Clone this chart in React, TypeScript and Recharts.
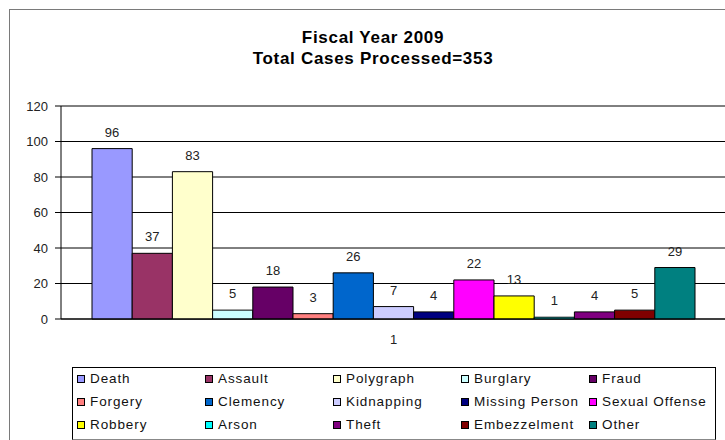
import React from 'react';
import { BarChart, Bar, XAxis, YAxis, CartesianGrid, LabelList } from 'recharts';

const crimeTypes = [
  'Death', 'Assault', 'Polygraph', 'Burglary', 'Fraud',
  'Forgery', 'Clemency', 'Kidnapping', 'Missing Person', 'Sexual Offense',
  'Robbery', 'Arson', 'Theft', 'Embezzelment', 'Other',
];
const caseCounts = [96, 37, 83, 5, 18, 3, 26, 7, 4, 22, 13, 1, 4, 5, 29];
const barColors = [
  '#9999FF', '#993366', '#FFFFCC', '#CCFFFF', '#660066',
  '#FF8080', '#0066CC', '#CCCCFF', '#000080', '#FF00FF',
  '#FFFF00', '#00FFFF', '#800080', '#800000', '#008080',
];
const yTicks = [0, 20, 40, 60, 80, 100, 120];
const categoryLabel = '1';
const titleLines = ['Fiscal Year 2009', 'Total Cases Processed=353'];

// one category row, one key per crime type
const chartData = [
  crimeTypes.reduce<Record<string, string | number>>(
    (row, t, i) => {
      row[t] = caseCounts[i];
      return row;
    },
    { name: categoryLabel }
  ),
];

const FONT = '"Liberation Sans", Arial, sans-serif';

const App: React.FC = () => {
  return (
    <div
      style={{
        position: 'absolute',
        left: 0,
        top: 0,
        width: 725,
        height: 440,
        overflow: 'hidden',
        background: '#fff',
        fontFamily: FONT,
      }}
    >
      {/* outer chart frame, cut off at right and bottom like the original */}
      <div
        style={{
          position: 'absolute',
          left: 9,
          top: 9,
          width: 800,
          height: 500,
          border: '1px solid #7a7a7a',
        }}
      />

      <div
        style={{
          position: 'absolute',
          left: 173,
          top: 27,
          width: 400,
          textAlign: 'center',
          fontWeight: 'bold',
          fontSize: 17,
          letterSpacing: 0.7,
          color: '#000',
        }}
      >
        {titleLines.map(line => (
          <div key={line} style={{ height: 21, lineHeight: '21px' }}>
            {line}
          </div>
        ))}
      </div>

      <div style={{ position: 'absolute', left: 0, top: 0 }}>
        <BarChart
          width={726}
          height={440}
          data={chartData}
          margin={{ top: 106, right: 0, bottom: 91, left: 0 }}
          barCategoryGap={30}
          barGap={0}
          barSize={40.2}
        >
          <CartesianGrid vertical={false} stroke="#000" />
          <XAxis
            dataKey="name"
            tickLine={false}
            axisLine={{ stroke: '#000' }}
            tickSize={5}
            tickMargin={11}
            height={30}
            tick={{ fontSize: 13, fill: '#222', fontFamily: FONT }}
          />
          <YAxis
            width={61}
            domain={[0, 120]}
            ticks={yTicks}
            interval={0}
            tickSize={6}
            tickMargin={7}
            axisLine={{ stroke: '#000' }}
            tickLine={{ stroke: '#000' }}
            tick={{ fontSize: 13, fill: '#222', fontFamily: FONT }}
          />
          {crimeTypes.map((t, i) => (
            <Bar
              key={t}
              dataKey={t}
              fill={barColors[i]}
              stroke="#000"
              strokeWidth={1}
              isAnimationActive={false}
            >
              <LabelList
                dataKey={t}
                position="top"
                offset={12}
                fill="#222"
                fontSize={13}
                fontFamily={FONT}
              />
            </Bar>
          ))}
        </BarChart>
      </div>

      {/* legend box */}
      <div
        style={{
          position: 'absolute',
          left: 72,
          top: 367,
          width: 644,
          height: 73,
          border: '1px solid #000',
          borderBottomColor: '#888',
          boxSizing: 'border-box',
        }}
      >
        <div
          style={{
            marginTop: -1,
            paddingLeft: 4,
            display: 'grid',
            gridTemplateColumns: 'repeat(5, 128px)',
            gridAutoRows: '23px',
          }}
        >
          {crimeTypes.map((t, i) => (
            <div key={t} style={{ display: 'flex', alignItems: 'center', whiteSpace: 'nowrap' }}>
              <span
                style={{
                  display: 'inline-block',
                  width: 8,
                  height: 8,
                  boxSizing: 'border-box',
                  border: '1px solid #000',
                  background: barColors[i],
                  marginRight: 5,
                }}
              />
              <span style={{ fontSize: 13.5, letterSpacing: 0.9, color: '#111' }}>{t}</span>
            </div>
          ))}
        </div>
      </div>
    </div>
  );
};

export default App;
